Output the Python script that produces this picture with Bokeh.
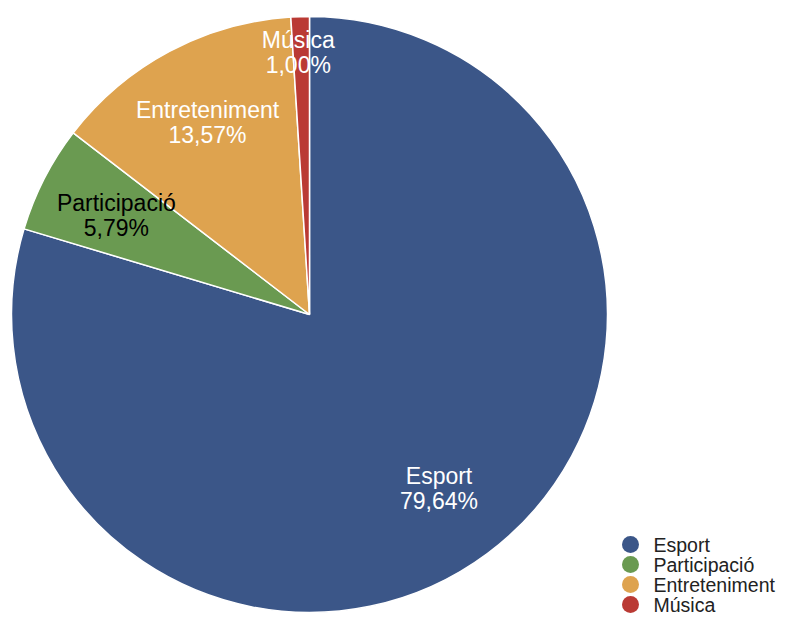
import math
from bokeh.plotting import figure
from bokeh.models import Range1d, ColumnDataSource
from bokeh.core.properties import value
from bokeh.embed import file_html
from bokeh.resources import INLINE

# ---- data ----
categories = ["Esport", "Participació", "Entreteniment", "Música"]
shares = [79.64, 5.79, 13.57, 1.00]

# ---- styles ----
slice_colors = ["#3B5688", "#6A9A51", "#DEA34F", "#BA3A34"]
label_colors = ["#FFFFFF", "#000000", "#FFFFFF", "#FFFFFF"]
FONT = "Liberation Sans"

W, H = 777, 621
CX, CY, R = 309, H - 314, 298

p = figure(width=W, height=H, x_range=Range1d(0, W), y_range=Range1d(0, H),
           output_backend="svg", toolbar_location=None, min_border=0,
           x_axis_location=None, y_axis_location=None)
p.outline_line_color = None
p.grid.visible = False
p.background_fill_color = "white"

total = sum(shares)
starts, ends, lx, ly, names, pcts = [], [], [], [], [], []
cum = 0.0
for cat, v in zip(categories, shares):
    f0 = cum / total
    cum += v
    f1 = cum / total
    starts.append(math.pi / 2 - 2 * math.pi * f0)
    ends.append(math.pi / 2 - 2 * math.pi * f1)
    mid = 2 * math.pi * (f0 + f1) / 2
    rl = 217 if v / total >= 0.02 else 262
    lx.append(CX + rl * math.sin(mid) - (3 if v / total < 0.02 else 0))
    ly.append(CY + rl * math.cos(mid))
    names.append(cat)
    pcts.append(f"{v:.2f}%".replace(".", ","))

src = ColumnDataSource(dict(start=starts, end=ends, color=slice_colors,
                            lx=lx, ly_top=[y + 12.5 for y in ly], ly_bot=[y - 12.5 for y in ly],
                            name=names, pct=pcts, tcolor=label_colors))

p.wedge(x=CX, y=CY, radius=R, start_angle="start", end_angle="end",
        direction="clock", fill_color="color", line_color="white",
        line_width=1.5, source=src)

p.text(x="lx", y="ly_top", text="name", text_color="tcolor", text_align="center",
       text_baseline="middle", text_font=value(FONT), text_font_size="23px", source=src)
p.text(x="lx", y="ly_bot", text="pct", text_color="tcolor", text_align="center",
       text_baseline="middle", text_font=value(FONT), text_font_size="23px", source=src)

# legend
leg_y = [H - (544 + i * 20) for i in range(len(categories))]
leg = ColumnDataSource(dict(x=[630] * len(categories), tx=[653] * len(categories),
                            y=leg_y, color=slice_colors, name=categories))
p.scatter(x="x", y="y", size=17, marker="circle", fill_color="color",
          line_color=None, source=leg)
p.text(x="tx", y="y", text="name", text_color="#222222", text_align="left",
       text_baseline="middle", text_font=value(FONT), text_font_size="19.5px", source=leg)

open("out.html", "w").write(file_html(p, INLINE))
